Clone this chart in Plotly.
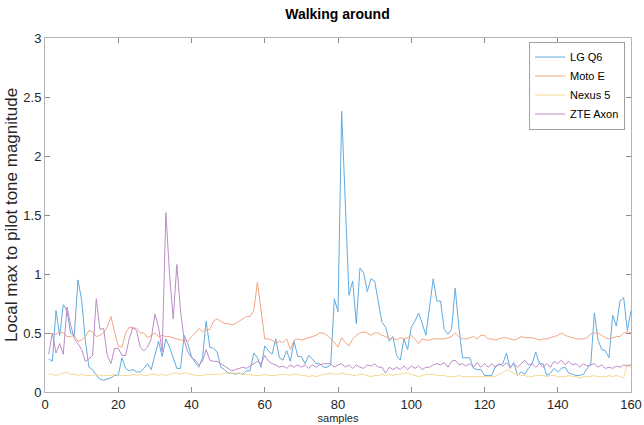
import plotly.graph_objects as go

samples = list(range(1, 161))

lg_q6 = [0.28, 0.26, 0.69, 0.48, 0.74, 0.69, 0.50, 0.48, 0.95, 0.78,
         0.44, 0.21, 0.19, 0.14, 0.11, 0.10, 0.11, 0.12, 0.14, 0.14,
         0.29, 0.20, 0.18, 0.19, 0.17, 0.17, 0.20, 0.24, 0.19, 0.30,
         0.43, 0.30, 0.45, 0.38, 0.29, 0.20, 0.20, 0.48, 0.41, 0.30,
         0.25, 0.21, 0.29, 0.60, 0.38, 0.37, 0.34, 0.21, 0.19, 0.16,
         0.16, 0.15, 0.16, 0.15, 0.18, 0.18, 0.33, 0.29, 0.21, 0.39,
         0.35, 0.32, 0.45, 0.29, 0.27, 0.35, 0.26, 0.43, 0.30, 0.30,
         0.24, 0.31, 0.28, 0.24, 0.24, 0.21, 0.21, 0.23, 0.79, 0.68,
         2.38, 1.60, 0.82, 0.94, 0.58, 1.05, 1.01, 0.85, 0.96, 0.94,
         0.77, 0.59, 0.55, 0.43, 0.47, 0.31, 0.27, 0.45, 0.36, 0.55,
         0.60, 0.67, 0.58, 0.48, 0.72, 0.96, 0.77, 0.77, 0.53, 0.49,
         0.53, 0.88, 0.55, 0.29, 0.29, 0.29, 0.20, 0.19, 0.19, 0.14,
         0.14, 0.14, 0.22, 0.23, 0.24, 0.33, 0.20, 0.25, 0.14, 0.17,
         0.15, 0.20, 0.24, 0.34, 0.24, 0.24, 0.14, 0.16, 0.20, 0.17,
         0.20, 0.21, 0.16, 0.15, 0.14, 0.14, 0.15, 0.20, 0.23, 0.67,
         0.44, 0.36, 0.35, 0.29, 0.65, 0.56, 0.77, 0.80, 0.52, 0.69]

moto_e = [0.50, 0.49, 0.49, 0.51, 0.50, 0.47, 0.47, 0.48, 0.43, 0.44,
          0.47, 0.52, 0.51, 0.47, 0.48, 0.50, 0.55, 0.64, 0.51, 0.39,
          0.38, 0.50, 0.55, 0.54, 0.54, 0.50, 0.50, 0.46, 0.48, 0.50,
          0.47, 0.48, 0.47, 0.47, 0.46, 0.45, 0.44, 0.44, 0.43, 0.47,
          0.50, 0.54, 0.51, 0.53, 0.53, 0.60, 0.62, 0.60, 0.58, 0.58,
          0.57, 0.58, 0.60, 0.62, 0.64, 0.64, 0.69, 0.93, 0.69, 0.45,
          0.45, 0.44, 0.41, 0.43, 0.42, 0.45, 0.36, 0.44, 0.45, 0.44,
          0.45, 0.46, 0.47, 0.48, 0.50, 0.50, 0.48, 0.45, 0.42, 0.38,
          0.46, 0.42, 0.39, 0.45, 0.48, 0.50, 0.51, 0.50, 0.48, 0.50,
          0.50, 0.48, 0.47, 0.45, 0.46, 0.44, 0.46, 0.45, 0.46, 0.48,
          0.45, 0.41, 0.45, 0.44, 0.44, 0.45, 0.45, 0.45, 0.45, 0.46,
          0.47, 0.50, 0.47, 0.45, 0.45, 0.46, 0.47, 0.45, 0.48, 0.48,
          0.45, 0.45, 0.44, 0.45, 0.46, 0.46, 0.45, 0.44, 0.45, 0.47,
          0.46, 0.46, 0.46, 0.45, 0.44, 0.45, 0.45, 0.46, 0.47, 0.48,
          0.50, 0.48, 0.47, 0.46, 0.45, 0.45, 0.45, 0.46, 0.49, 0.50,
          0.50, 0.48, 0.46, 0.45, 0.46, 0.47, 0.47, 0.50, 0.51, 0.50]

nexus_5 = [0.15, 0.15, 0.14, 0.15, 0.16, 0.17, 0.15, 0.15, 0.14, 0.15,
           0.14, 0.14, 0.14, 0.15, 0.14, 0.14, 0.14, 0.14, 0.15, 0.14,
           0.14, 0.14, 0.14, 0.15, 0.14, 0.15, 0.14, 0.14, 0.15, 0.15,
           0.14, 0.15, 0.14, 0.15, 0.16, 0.16, 0.15, 0.16, 0.16, 0.15,
           0.14, 0.14, 0.14, 0.15, 0.15, 0.15, 0.15, 0.15, 0.16, 0.16,
           0.16, 0.16, 0.16, 0.15, 0.15, 0.15, 0.14, 0.14, 0.14, 0.15,
           0.14, 0.14, 0.14, 0.15, 0.15, 0.15, 0.14, 0.15, 0.15, 0.14,
           0.14, 0.13, 0.14, 0.13, 0.14, 0.15, 0.15, 0.16, 0.15, 0.15,
           0.16, 0.15, 0.15, 0.14, 0.14, 0.15, 0.15, 0.14, 0.13, 0.14,
           0.14, 0.15, 0.14, 0.15, 0.14, 0.15, 0.15, 0.16, 0.16, 0.15,
           0.14, 0.13, 0.14, 0.15, 0.15, 0.15, 0.14, 0.14, 0.14, 0.13,
           0.13, 0.13, 0.14, 0.13, 0.13, 0.13, 0.13, 0.13, 0.13, 0.13,
           0.13, 0.13, 0.13, 0.15, 0.16, 0.19, 0.18, 0.16, 0.15, 0.14,
           0.14, 0.13, 0.13, 0.14, 0.14, 0.14, 0.13, 0.14, 0.14, 0.13,
           0.13, 0.13, 0.14, 0.13, 0.13, 0.12, 0.13, 0.13, 0.13, 0.14,
           0.13, 0.13, 0.13, 0.14, 0.13, 0.14, 0.13, 0.12, 0.24, 0.21]

zte_axon = [0.32, 0.50, 0.33, 0.41, 0.32, 0.72, 0.57, 0.45, 0.41, 0.36,
            0.26, 0.28, 0.31, 0.79, 0.53, 0.54, 0.31, 0.24, 0.37, 0.37,
            0.31, 0.31, 0.45, 0.55, 0.52, 0.38, 0.35, 0.38, 0.45, 0.66,
            0.55, 0.34, 1.52, 1.00, 0.62, 1.08, 0.69, 0.44, 0.34, 0.29,
            0.27, 0.23, 0.26, 0.36, 0.27, 0.26, 0.26, 0.24, 0.22, 0.20,
            0.18, 0.19, 0.20, 0.21, 0.20, 0.22, 0.24, 0.26, 0.24, 0.31,
            0.26, 0.24, 0.23, 0.21, 0.22, 0.20, 0.23, 0.21, 0.23, 0.21,
            0.23, 0.20, 0.23, 0.21, 0.23, 0.24, 0.24, 0.24, 0.21, 0.23,
            0.24, 0.21, 0.23, 0.20, 0.23, 0.21, 0.20, 0.23, 0.22, 0.24,
            0.21, 0.21, 0.16, 0.21, 0.19, 0.21, 0.19, 0.22, 0.19, 0.22,
            0.20, 0.22, 0.19, 0.21, 0.21, 0.23, 0.24, 0.23, 0.25, 0.21,
            0.26, 0.27, 0.23, 0.24, 0.22, 0.24, 0.21, 0.25, 0.21, 0.24,
            0.21, 0.24, 0.21, 0.24, 0.22, 0.25, 0.21, 0.24, 0.21, 0.24,
            0.27, 0.23, 0.24, 0.21, 0.24, 0.21, 0.24, 0.21, 0.26, 0.24,
            0.27, 0.23, 0.26, 0.23, 0.24, 0.21, 0.24, 0.22, 0.23, 0.24,
            0.21, 0.23, 0.20, 0.21, 0.20, 0.22, 0.21, 0.23, 0.22, 0.23]

series_names = ["LG Q6", "Moto E", "Nexus 5", "ZTE Axon"]
series_values = [lg_q6, moto_e, nexus_5, zte_axon]
colors = ["#62abdf", "#f2a684", "#f7da90", "#bd8cc7"]

x_ticks = [0, 20, 40, 60, 80, 100, 120, 140, 160]
y_ticks = [0, 0.5, 1, 1.5, 2, 2.5, 3]
y_tick_labels = ["0", "0.5", "1", "1.5", "2", "2.5", "3"]

FONT = "Liberation Sans, Arial, sans-serif"

fig = go.Figure()
for name, vals, col in zip(series_names, series_values, colors):
    fig.add_trace(go.Scatter(x=samples, y=vals, mode="lines", name=name,
                             line=dict(color=col, width=1)))

axis_common = dict(showgrid=False, zeroline=False, showline=True, mirror="ticks",
                   linecolor="#b4b4b4", linewidth=1, ticks="inside", ticklen=5,
                   tickcolor="#8c8c8c", automargin=False,
                   tickfont=dict(family=FONT, size=13, color="#262626"))

fig.update_layout(
    width=644, height=425,
    margin=dict(l=45, r=13, t=38, b=33),
    paper_bgcolor="white", plot_bgcolor="white",
    title=dict(text="<b>Walking around</b>", x=0.524, xanchor="center",
               y=1 - 14 / 425, yanchor="middle",
               font=dict(family=FONT, size=14, color="black")),
    xaxis=dict(range=[0, 160], tickvals=x_ticks, ticktext=[str(v) for v in x_ticks],
               title=dict(text="samples", font=dict(family=FONT, size=11, color="#262626"), standoff=0),
               **axis_common),
    yaxis=dict(range=[0, 3], tickvals=y_ticks, ticktext=y_tick_labels,
               title=dict(text="Local max to pilot tone magnitude",
                          font=dict(family=FONT, size=17, color="#262626"), standoff=1),
               **axis_common),
    legend=dict(x=0.826, y=0.99, xanchor="left", yanchor="top",
                bgcolor="white", bordercolor="#a0a0a0", borderwidth=1,
                font=dict(family=FONT, size=11, color="#000000"),
                itemwidth=30, tracegroupgap=0),
    showlegend=True,
)

fig.write_html(
    "out.html",
    config={"displayModeBar": False},
    post_script=("document.body.style.margin='0';"
                 "document.body.style.overflow='hidden';"
                 "document.documentElement.style.overflow='hidden';"),
)
